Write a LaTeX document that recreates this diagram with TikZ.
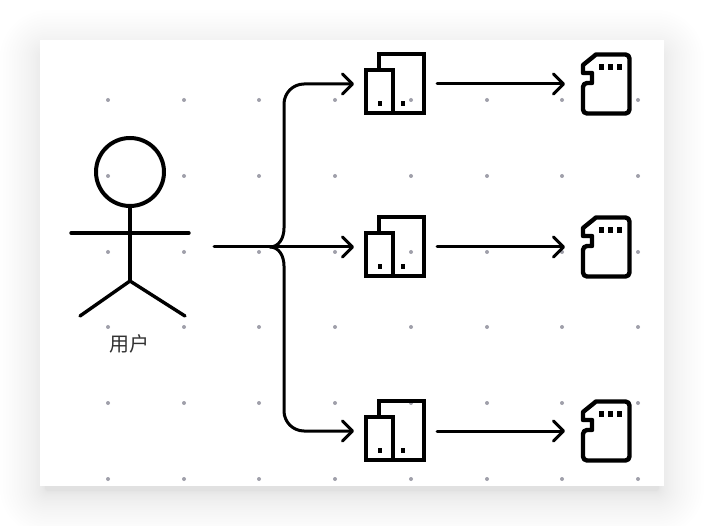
\documentclass[tikz,border=0pt]{standalone}
\usepackage{fontspec}
\newfontfamily\cjkfont{Noto Sans CJK SC}
\usetikzlibrary{arrows.meta}
\definecolor{griddot}{RGB}{160,160,170}
\definecolor{labelgray}{RGB}{50,50,50}
\tikzset{
  x=1pt,y=-1pt,
  stroke/.style={draw=black,line width=3.4pt,line join=round,line cap=round},
  iconline/.style={draw=black,line width=4.4pt,line join=miter},
  wire/.style={draw=black,line width=3pt,line cap=round},
  arrowwire/.style={wire,-{Straight Barb[length=10pt,width=20pt,line width=3pt,round]}},
  griddotstyle/.style={fill=griddot,draw=none},
  anchorbox/.style={inner sep=0pt,minimum size=0pt},
  usertext/.style={font=\cjkfont\fontsize{20}{20}\selectfont,text=labelgray,inner sep=0pt}
}
\newcommand{\storageicon}[1]{%
  \begin{scope}[shift={(0,#1)}]
    \draw[iconline] (379,70) -- (379,54) -- (424,54) -- (424,113) -- (393,113);
    \draw[iconline] (366,70) rectangle (393,113);
    \fill (378,101) rectangle (382,106);
    \fill (400.5,101) rectangle (404.5,106);
  \end{scope}}
\newcommand{\cardicon}[1]{%
  \begin{scope}[shift={(0,#1)}]
    \draw[iconline,line join=round] (596,54.5)
      [rounded corners=4pt] -- (629.5,54.5) -- (629.5,113.5) -- (583,113.5) -- (583,83)
      [sharp corners] -- (592,83) -- (592,73) -- (583,73) -- (583,65) -- cycle;
    \fill (599,64) rectangle (604,70);
    \fill (608,64) rectangle (613,70);
    \fill (617,64) rectangle (622,70);
  \end{scope}}
\begin{document}
\begin{tikzpicture}
\useasboundingbox (0,0) rectangle (704,526);
% soft shadow
\foreach \t in {0,1,...,29}{
  \pgfmathsetmacro{\s}{-5+45*(\t/29)*(\t/29)}
  \pgfmathsetmacro{\r}{\s+8}
  \fill[black,opacity=0.004,rounded corners=\r pt]
    (40-\s,50-\s) rectangle (664+\s,496+\s);
}
\fill[white] (40,40) rectangle (664,486);
% dot grid
\foreach \gx in {108,184,259,335,411,487,562,638}
  \foreach \gy in {100,176,252,327,403,479}
    \fill[griddotstyle] (\gx,\gy) circle[radius=2];
% user figure
\node[draw=none,anchorbox] (head) at (130,172) {};
\draw[stroke,line width=4pt] (head) circle[radius=34];
\coordinate (neck) at (130,206);
\coordinate (hip) at (130,281);
\coordinate (handl) at (71,233);
\coordinate (handr) at (189,233);
\coordinate (footl) at (80,316);
\coordinate (footr) at (185,316);
\draw[stroke] (neck) -- (hip);
\draw[stroke] (handl) -- (handr);
\draw[stroke] (footl) -- (hip) -- (footr);
\node[usertext] (user) at (129,344) {用户};
% icons
\storageicon{0}
\storageicon{163}
\storageicon{347}
\cardicon{0}
\cardicon{163}
\cardicon{347}
\coordinate (src) at (214,247);
\coordinate (hub) at (270,247);
\coordinate (s1) at (354,84);
\coordinate (s2) at (354,247);
\coordinate (s3) at (354,431);
\coordinate (o1) at (437,84);
\coordinate (o2) at (437,247);
\coordinate (o3) at (437,431);
\coordinate (d1) at (565,84);
\coordinate (d2) at (565,247);
\coordinate (d3) at (565,431);
% connectors
\draw[arrowwire] (src) -- (s2);
\draw[arrowwire] (hub) .. controls (279,247) and (284,238) .. (284,228) -- (284,104)
  .. controls (284,93) and (293,84) .. (304,84) -- (s1);
\draw[arrowwire] (hub) .. controls (279,247) and (284,256) .. (284,266) -- (284,411)
  .. controls (284,422) and (293,431) .. (304,431) -- (s3);
\draw[arrowwire] (o1) -- (d1);
\draw[arrowwire] (o2) -- (d2);
\draw[arrowwire] (o3) -- (d3);
\end{tikzpicture}
\end{document}
